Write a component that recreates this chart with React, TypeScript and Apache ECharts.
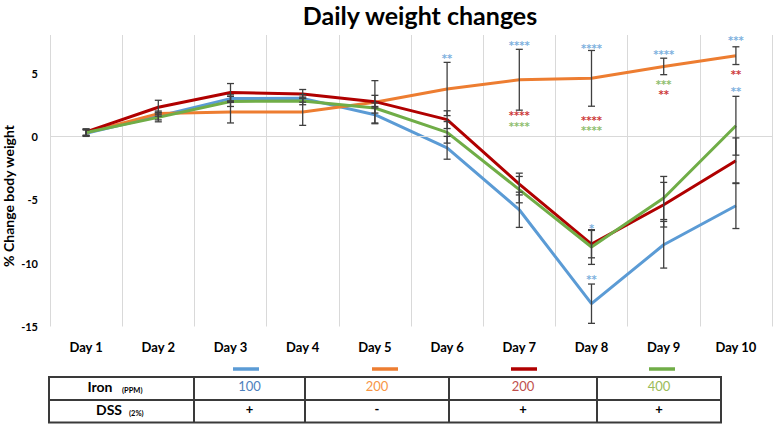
import React, { useEffect, useRef } from "react";
import * as echarts from "echarts";

const days = ["Day 1", "Day 2", "Day 3", "Day 4", "Day 5", "Day 6", "Day 7", "Day 8", "Day 9", "Day 10"];

const seriesNames = ["Iron 100 + DSS", "Iron 200 - DSS", "Iron 200 + DSS", "Iron 400 + DSS"];
const seriesColors = ["#5b9bd5", "#ed7d31", "#b00000", "#70ad47"];
const sigColors = ["#5b9bd5", "#ed7d31", "#c00000", "#70ad47"];

const blueValues = [0.25, 1.6, 2.98, 3.0, 1.71, -0.9, -5.79, -13.2, -8.55, -5.47];
const orangeValues = [0.3, 1.8, 1.93, 1.93, 2.7, 3.74, 4.47, 4.58, 5.52, 6.37];
const redValues = [0.35, 2.3, 3.47, 3.35, 2.74, 1.32, -3.76, -8.5, -5.39, -1.92];
const greenValues = [0.3, 1.5, 2.76, 2.8, 2.24, 0.32, -4.2, -8.73, -4.86, 0.84];

const blueErr = [0.25, 0.3, 0.3, 0.3, 0.65, 0.9, 1.39, 1.55, 1.84, 1.8];
const orangeErr = [0.25, 0.2, 0.87, 1.06, 1.7, 2.1, 2.4, 2.2, 0.65, 0.7];
const redErr = [0.25, 0.55, 0.7, 0.35, 0.5, 0.7, 0.86, 1.08, 1.76, 1.8];
const greenErr = [0.25, 0.35, 0.4, 0.3, 0.4, 0.85, 1.04, 1.37, 1.7, 2.32];

// significance marks: day index, value position (centre), stars, group index (colour)
const sigDay = [5, 6, 6, 6, 7, 7, 7, 7, 7, 8, 8, 8, 9, 9, 9];
const sigValue = [6.37, 7.37, 1.85, 1.04, 7.21, 1.52, 0.71, -7.05, -11.05, 6.69, 4.34, 3.53, 7.77, 5.13, 3.76];
const sigStars = [2, 4, 4, 4, 4, 4, 4, 1, 2, 4, 3, 2, 3, 2, 2];
const sigGroup = [0, 0, 2, 3, 0, 2, 3, 0, 0, 0, 3, 2, 0, 2, 0];

const yTicks = [-15, -10, -5, 0, 5];

const ironLevels = ["100", "200", "200", "400"];
const dssFlags = ["+", "-", "+", "+"];
const ironTextColors = ["#4f81bd", "#f79646", "#c0504d", "#9bbb59"];

export default function App() {
  const ref = useRef<HTMLDivElement>(null);

  useEffect(() => {
    if (!ref.current) return;
    const chart = echarts.init(ref.current, null, { renderer: "svg" });

    const allValues = [blueValues, orangeValues, redValues, greenValues];
    const allErr = [blueErr, orangeErr, redErr, greenErr];

    const lineSeries = allValues.map((vals, i) => ({
      name: seriesNames[i],
      type: "line",
      data: vals,
      symbol: "none",
      lineStyle: { color: seriesColors[i], width: 3 },
      itemStyle: { color: seriesColors[i] },
      z: 3 + i,
    }));

    const errData: number[][] = [];
    allValues.forEach((vals, i) => {
      vals.forEach((v, d) => {
        errData.push([d, v - allErr[i][d], v + allErr[i][d]]);
      });
    });

    const errorSeries = {
      type: "custom",
      name: "error",
      data: errData,
      encode: { x: 0, y: [1, 2] },
      z: 10,
      renderItem: (params: any, api: any) => {
        const x = api.value(0);
        const lo = api.value(1);
        const hi = api.value(2);
        const pHi = api.coord([x, hi]);
        const pLo = api.coord([x, lo]);
        const w = 3.5;
        const style = { stroke: "#3f3f3f", lineWidth: 1.3 };
        return {
          type: "group",
          children: [
            { type: "line", shape: { x1: pHi[0], y1: pHi[1], x2: pLo[0], y2: pLo[1] }, style },
            { type: "line", shape: { x1: pHi[0] - w, y1: pHi[1], x2: pHi[0] + w, y2: pHi[1] }, style },
            { type: "line", shape: { x1: pLo[0] - w, y1: pLo[1], x2: pLo[0] + w, y2: pLo[1] }, style },
          ],
        };
      },
    };

    const sigSeries = {
      type: "scatter",
      name: "sig",
      symbolSize: 1,
      itemStyle: { color: "rgba(0,0,0,0)" },
      z: 12,
      data: sigDay.map((d, k) => ({
        value: [d, sigValue[k]],
        label: {
          show: true,
          position: "inside",
          formatter: new Array(sigStars[k]).fill("*").join(""),
          color: sigColors[sigGroup[k]],
          fontSize: 10,
          fontWeight: "bold",
          fontFamily: "DejaVu Sans",
          offset: [0, 3],
        },
      })),
    };

    const zeroSeries = {
      type: "line",
      name: "zero",
      data: [],
      z: 1,
      markLine: {
        silent: true,
        symbol: "none",
        animation: false,
        label: { show: false },
        lineStyle: { color: "#d9d9d9", type: "solid", width: 1 },
        data: [{ yAxis: 0 }],
      },
    };

    // table geometry
    const tL = 49, tR = 721, tT = 377, tM = 400, tB = 422.5;
    const cols = [194, 305, 449, 597];
    const colCenters = [249.5, 377, 523, 659];
    const swatchCenters = [246, 385, 524, 662];
    const border = { stroke: "#3a3a3a", lineWidth: 2 };

    const graphics: any[] = [];
    graphics.push({ type: "rect", shape: { x: tL, y: tT, width: tR - tL, height: tB - tT }, style: { fill: "none", ...border } });
    graphics.push({ type: "line", shape: { x1: tL, y1: tM, x2: tR, y2: tM }, style: border });
    cols.forEach((cx) => graphics.push({ type: "line", shape: { x1: cx, y1: tT, x2: cx, y2: tB }, style: border }));
    swatchCenters.forEach((sx, i) =>
      graphics.push({ type: "line", shape: { x1: sx - 13, y1: 369, x2: sx + 13, y2: 369 }, style: { stroke: seriesColors[i], lineWidth: 3.5 } })
    );
    graphics.push({ type: "text", x: 100, y: 386, style: { text: "Iron", fontSize: 14, fontWeight: "bold", fontFamily: "Lato", fill: "#000", align: "center", verticalAlign: "middle" } });
    graphics.push({ type: "text", x: 122, y: 390, style: { text: "(PPM)", fontSize: 7.5, fontWeight: "bold", fontFamily: "Lato", fill: "#000", align: "left", verticalAlign: "middle" } });
    graphics.push({ type: "text", x: 109, y: 409, style: { text: "DSS", fontSize: 14, fontWeight: "bold", fontFamily: "Lato", fill: "#000", align: "center", verticalAlign: "middle" } });
    graphics.push({ type: "text", x: 129, y: 413, style: { text: "(2%)", fontSize: 7.5, fontWeight: "bold", fontFamily: "Lato", fill: "#000", align: "left", verticalAlign: "middle" } });
    ironLevels.forEach((t, i) =>
      graphics.push({ type: "text", x: colCenters[i], y: 386, style: { text: t, fontSize: 13, fontFamily: "Lato", fill: ironTextColors[i], align: "center", verticalAlign: "middle" } })
    );
    dssFlags.forEach((t, i) =>
      graphics.push({ type: "text", x: colCenters[i], y: 409, style: { text: t, fontSize: 13, fontWeight: "bold", fontFamily: "Lato", fill: "#000", align: "center", verticalAlign: "middle" } })
    );
    graphics.push({
      type: "text",
      x: 8,
      y: 196,
      rotation: Math.PI / 2,
      style: { text: "% Change body weight", fontSize: 14, fontWeight: "bold", fontFamily: "Lato", fill: "#000", align: "center", verticalAlign: "middle" },
    });

    chart.setOption({
      animation: false,
      backgroundColor: "#ffffff",
      title: {
        text: "Daily weight changes",
        left: 415,
        top: 0,
        padding: [2, 5, 0, 5],
        textAlign: "center",
        textStyle: { fontSize: 25, fontWeight: "bold", fontFamily: "Lato", color: "#000" },
      },
      grid: { left: 50, right: 2, top: 35, bottom: 97.5, containLabel: false, outerBoundsMode: "none" },
      xAxis: {
        type: "category",
        data: days,
        boundaryGap: true,
        axisLine: { show: false },
        axisTick: { show: false },
        splitLine: { show: true, lineStyle: { color: "#d9d9d9", width: 1 } },
        axisLabel: { fontSize: 13, fontWeight: "bold", fontFamily: "Lato", color: "#000", margin: 14, interval: 0 },
      },
      yAxis: {
        type: "value",
        min: -15,
        max: 8,
        interval: 5,
        axisLine: { show: false },
        axisTick: { show: false },
        splitLine: { show: false },
        axisLabel: {
          fontSize: 11,
          fontWeight: "bold",
          fontFamily: "Lato",
          color: "#000",
          margin: 12,
          formatter: (v: number) => (yTicks.indexOf(v) >= 0 ? String(v) : ""),
        },
      },
      graphic: graphics,
      series: [zeroSeries, ...lineSeries, errorSeries, sigSeries],
    });

    return () => chart.dispose();
  }, []);

  return <div ref={ref} style={{ position: "fixed", left: 0, top: 0, width: 774, height: 424 }} />;
}
